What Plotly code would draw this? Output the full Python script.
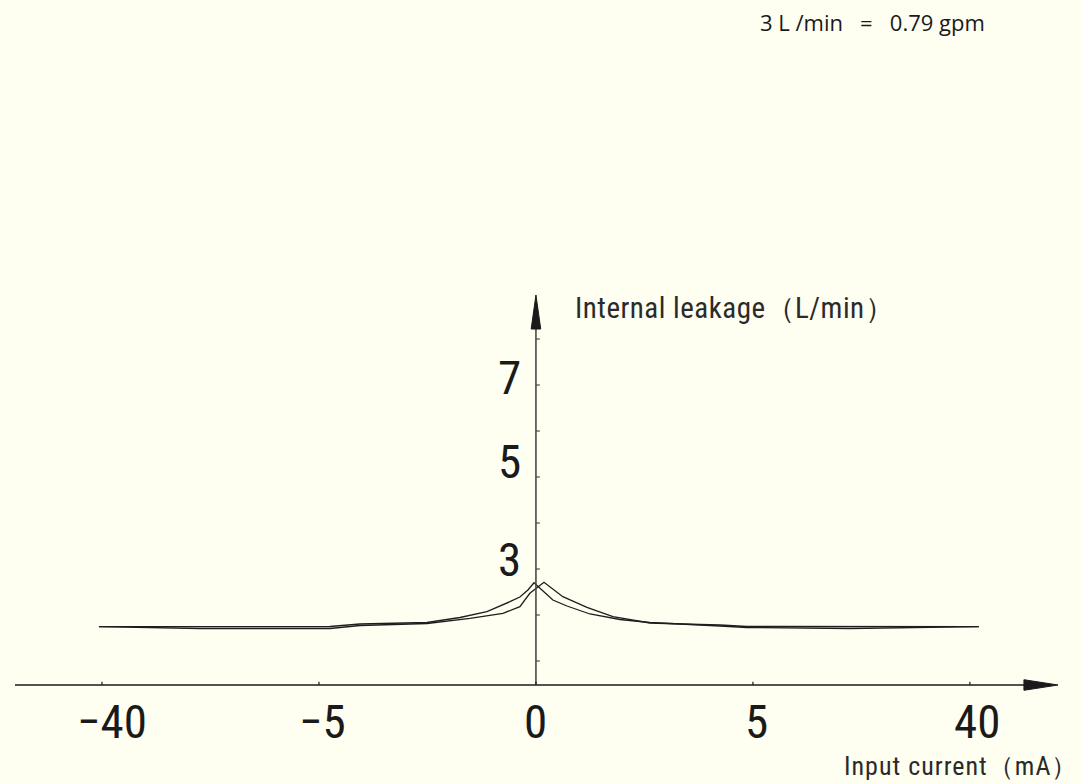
import plotly.graph_objects as go

# ---- data (x in axis-segment units: tick positions -2..2 labelled -40,-5,0,5,40 mA) ----
tick_pos = [-2, -1, 0, 1, 2]
tick_labels = ["\u221240", "\u22125", "0", "5", "40"]
y_tick_vals = [1, 2, 3, 4, 5, 6, 7, 8]
y_label_vals = [3, 5, 7]

curve_a_x = [-2.014, -1.548, -0.949, -0.811, -0.502, -0.350, -0.226, -0.120, -0.074, -0.037,
             -0.009, 0.078, 0.143, 0.249, 0.387, 0.525, 0.756, 0.848, 0.972, 1.447, 2.041]
curve_a_y = [1.746, 1.750, 1.750, 1.804, 1.837, 1.946, 2.072, 2.289, 2.391, 2.543,
             2.702, 2.326, 2.196, 2.022, 1.902, 1.837, 1.793, 1.761, 1.728, 1.707, 1.746]

curve_b_x = [-2.014, -1.548, -0.949, -0.811, -0.502, -0.350, -0.304, -0.152, -0.106, -0.074,
             -0.028, 0.018, 0.037, 0.124, 0.235, 0.355, 0.479, 0.525, 0.756, 0.848, 0.972,
             1.447, 2.041]
curve_b_y = [1.746, 1.707, 1.707, 1.772, 1.815, 1.891, 1.928, 2.037, 2.124, 2.180,
             2.472, 2.630, 2.711, 2.398, 2.167, 1.963, 1.854, 1.826, 1.793, 1.783, 1.750,
             1.746, 1.746]

W, H = 1081, 784
X_RANGE = [-2.470, 2.512]
Y_RANGE = [-1.674, 15.370]
XAX_Y = 0.478
BG = "#FEFEF1"
LINE = "#1e1e1e"
NARROW = "Roboto Condensed, Roboto, sans-serif"

fig = go.Figure()
for xs, ys in [(curve_a_x, curve_a_y), (curve_b_x, curve_b_y)]:
    fig.add_trace(go.Scatter(x=xs, y=ys, mode="lines",
                             line=dict(color=LINE, width=1.3), hoverinfo="skip",
                             showlegend=False))

shapes = []
shapes.append(dict(type="line", xref="x", yref="y", x0=-2.401, x1=2.26, y0=XAX_Y, y1=XAX_Y,
                   line=dict(color="#1a1a1a", width=1.6)))
shapes.append(dict(type="path", xref="x", yref="y",
                   path=f"M 2.249 {XAX_Y + 0.115} L 2.406 {XAX_Y} L 2.249 {XAX_Y - 0.115} Z",
                   fillcolor="#1a1a1a", line=dict(color="#1a1a1a", width=1)))
shapes.append(dict(type="line", xref="x", yref="y", x0=0, x1=0, y0=XAX_Y, y1=8.25,
                   line=dict(color="#4a4a4a", width=1.6)))
shapes.append(dict(type="path", xref="x", yref="y",
                   path="M -0.022 8.217 L 0 8.957 L 0.022 8.217 Z",
                   fillcolor="#1a1a1a", line=dict(color="#1a1a1a", width=1)))
for p in tick_pos:
    shapes.append(dict(type="line", xref="x", yref="y", x0=p, x1=p, y0=XAX_Y, y1=XAX_Y + 0.07,
                       line=dict(color="#1a1a1a", width=1.2)))
for v in y_tick_vals:
    shapes.append(dict(type="line", xref="x", yref="y", x0=0, x1=0.018, y0=v, y1=v,
                       line=dict(color="#4a4a4a", width=1.2)))

annotations = []
x_label_shift = [10, 4, 0, 4, 7]
for p, t, s in zip(tick_pos, tick_labels, x_label_shift):
    annotations.append(dict(x=p, y=XAX_Y, xref="x", yref="y", text=t, showarrow=False,
                            xanchor="center", yanchor="top", xshift=s, yshift=-7,
                            font=dict(family=NARROW, size=47, color="#1a1a1a")))
y_label_shift = [10, 16, 8]
for v, s in zip(y_label_vals, y_label_shift):
    annotations.append(dict(x=0, y=v, xref="x", yref="y", text=str(v), showarrow=False,
                            xanchor="right", yanchor="middle", xshift=-13, yshift=s,
                            font=dict(family=NARROW, size=47, color="#1a1a1a")))

annotations.append(dict(x=573 / W, y=1 - 308 / H, xref="paper", yref="paper",
                        text="<span style='letter-spacing:0.5px'>Internal leakage\uff08L/min\uff09</span>",
                        showarrow=False, xanchor="left", yanchor="middle",
                        font=dict(family=NARROW, size=29, color="#2a2a2a")))
annotations.append(dict(x=1080 / W, y=1 - 766 / H, xref="paper", yref="paper",
                        text="<span style='letter-spacing:1px'>Input current\uff08mA\uff09</span>",
                        showarrow=False, xanchor="right", yanchor="middle",
                        font=dict(family=NARROW, size=26, color="#2a2a2a")))
annotations.append(dict(x=872 / W, y=1 - 21.7 / H, xref="paper", yref="paper",
                        text="3 L /min \u00a0 = \u00a0 0.79 gpm", showarrow=False,
                        xanchor="center", yanchor="middle",
                        font=dict(family="Open Sans, sans-serif", size=22, color="#1a1a1a")))

fig.update_layout(width=W, height=H, autosize=False,
                  margin=dict(l=0, r=0, t=0, b=0, pad=0),
                  paper_bgcolor=BG, plot_bgcolor=BG,
                  shapes=shapes, annotations=annotations, showlegend=False)
fig.update_xaxes(visible=False, range=X_RANGE, fixedrange=True)
fig.update_yaxes(visible=False, range=Y_RANGE, fixedrange=True)

fig.write_html("out.html", config={"displayModeBar": False},
               post_script="document.body.style.margin='0';")
